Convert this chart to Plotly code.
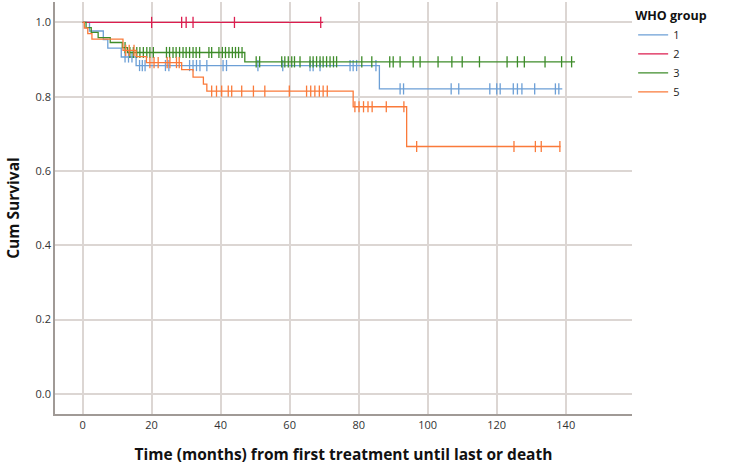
import numpy as np
import plotly.graph_objects as go

# ---- data ----
groups = ["1", "2", "3", "5"]
colors = ["#6c9fd6", "#dc1d4f", "#3e8c2a", "#fa7a3a"]

# Kaplan-Meier step times (months) and survival after each step
g1_times = [0, 2, 6, 7.3, 11.2, 15.5, 86]
g1_surv = [1.0, 0.977, 0.954, 0.931, 0.907, 0.884, 0.821]
g1_end = 139
g1_censor = [12.3, 13.3, 14.3, 16.5, 17.3, 18.1, 24, 25, 31, 32, 33, 34, 36,
             40.7, 41.7, 50.8, 58, 65.9, 66.8, 68.8, 77.5, 78.4, 79.4, 85,
             92, 93, 106.8, 109, 118, 120, 121, 124.8, 126, 127.3, 131, 137, 138]

g2_times = [0]
g2_surv = [1.0]
g2_end = 69.7
g2_censor = [20, 28.7, 30, 32, 44, 69]

g3_times = [0, 1, 2.5, 4.5, 8, 11.5, 13, 47]
g3_surv = [1.0, 0.986, 0.973, 0.959, 0.946, 0.932, 0.919, 0.894]
g3_end = 142.7
g3_censor = [12.3, 13.7, 14.7, 15.7, 16.6, 17.6, 18.6, 19.5, 20.5, 24.3, 25.2,
             26.2, 27.1, 28.1, 29.1, 30, 31, 32, 32.9, 33.9, 36.6, 37.4, 39.5,
             40.5, 41.4, 42.4, 43.4, 44.3, 45.2, 46.2,
             50.3, 51.3, 57.7, 58.6, 59.6, 60.6, 61.4, 63, 65.9, 66.8, 67.8,
             68.8, 69.7, 70.7, 71.7, 72.7, 73.6, 80.9, 83.8, 89, 90, 92, 95.8,
             97.8, 103, 107, 110, 115, 123, 126, 128, 134, 138.8, 141.7]

g5_times = [0, 0.5, 1.5, 2.7, 11.7, 15.5, 18.5, 28.7, 32, 35, 36, 78.4, 93.9]
g5_surv = [1.0, 0.985, 0.97, 0.955, 0.925, 0.908, 0.892, 0.873, 0.853, 0.834,
           0.815, 0.773, 0.666]
g5_end = 138.5
g5_censor = [12.5, 13.5, 14.9, 19.5, 20.7, 21.9, 24.5, 25.3, 27.2, 28,
             37.4, 38.8, 40.3, 42.2, 43.2, 46.1, 49.5, 52.8, 59.9, 64.9, 66.1,
             67.3, 68.6, 69.7, 70.9, 78.9, 80.1, 81.4, 82.7, 83.9, 88, 93.1,
             96.8, 125, 131.2, 132.9, 138.3]

x_ticks = [0, 20, 40, 60, 80, 100, 120, 140]
y_ticks = [0.0, 0.2, 0.4, 0.6, 0.8, 1.0]

series = [
    (g1_times, g1_surv, g1_end, g1_censor),
    (g2_times, g2_surv, g2_end, g2_censor),
    (g3_times, g3_surv, g3_end, g3_censor),
    (g5_times, g5_surv, g5_end, g5_censor),
]

FONT = "Open Sans"
fig = go.Figure()
for name, col, (t, s, end, cens) in zip(groups, colors, series):
    xs = list(t) + [end]
    ys = list(s) + [s[-1]]
    fig.add_trace(go.Scatter(x=xs, y=ys, mode="lines", line_shape="hv",
                             line=dict(color=col, width=1.3), name=name,
                             legendgroup=name))
    idx = np.searchsorted(np.array(t), np.array(cens), side="right") - 1
    cy = np.array(s)[idx]
    fig.add_trace(go.Scatter(x=cens, y=cy, mode="markers",
                             marker=dict(symbol="line-ns", size=8,
                                         line=dict(color=col, width=1.3)),
                             showlegend=False, legendgroup=name,
                             hoverinfo="skip"))

grid = "#dcd6d3"
axcol = "#a09a96"
fig.update_layout(
    width=731, height=466,
    margin=dict(l=55, r=99, t=2, b=52, autoexpand=False),
    paper_bgcolor="white", plot_bgcolor="white",
    font=dict(family=FONT, color="#333333"),
    legend=dict(x=1.002, y=0.995, xanchor="left", yanchor="top",
                title=dict(text="<b>WHO group</b>", font=dict(size=12.5, color="#111111")),
                font=dict(size=11, color="#222222"),
                itemwidth=30, tracegroupgap=0, bgcolor="rgba(0,0,0,0)"),
    xaxis=dict(range=[-8, 159.2], tickvals=x_ticks, showgrid=True,
               gridcolor=grid, gridwidth=1.5, zeroline=False,
               showline=True, linecolor=axcol, linewidth=1.5, automargin=False,
               ticks="", tickfont=dict(size=11, color="#333333"),
               title=dict(text="<b>Time (months) from first treatment until last or death</b>",
                          font=dict(size=15.5, color="#111111"), standoff=18)),
    yaxis=dict(range=[-0.054, 1.055], tickvals=y_ticks, tickformat=".1f",
               showgrid=True, gridcolor=grid, gridwidth=1.5, zeroline=False,
               showline=True, linecolor=axcol, linewidth=1.5, automargin=False,
               ticks="", tickfont=dict(size=11, color="#333333"),
               title=dict(text="<b>Cum Survival</b>",
                          font=dict(size=15.5, color="#111111"), standoff=12)),
)
fig.write_html("out.html", config={"displayModeBar": False},
               post_script="document.body.style.margin='0px';")
